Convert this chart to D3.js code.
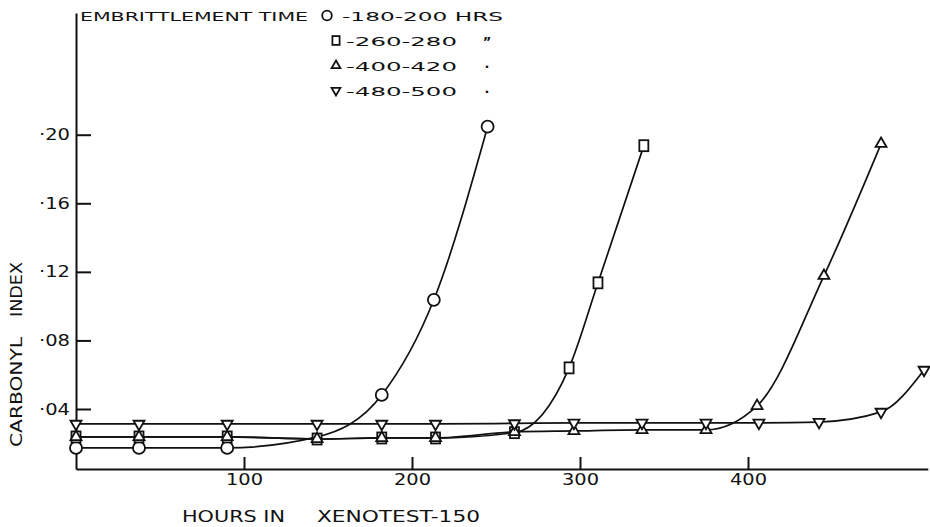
<!DOCTYPE html>
<html>
<head>
<meta charset="utf-8">
<script src="https://cdn.jsdelivr.net/npm/d3@7"></script>
<style>
  html, body { margin: 0; padding: 0; background: #fff; }
  svg { display: block; }
  text { font-family: "DejaVu Sans", "Liberation Sans", sans-serif; fill: #111; }
</style>
</head>
<body>
<svg id="chart" width="930" height="527"></svg>
<script>
// ---------------- data ----------------
const xTicks = [100, 200, 300, 400];
const yTicks = [0.04, 0.08, 0.12, 0.16, 0.20];
const yTickLabels = ["·04", "·08", "·12", "·16", "·20"];

// 180-200 HRS (circles)
const hours180 = [0, 37.5, 90, 143.5, 182, 213, 245];
const carbonyl180 = [0.0173, 0.0173, 0.0173, 0.0237, 0.0482, 0.1037, 0.2047];
const shown180 = [true, true, true, false, true, true, true];

// 260-280 (squares)
const hours260 = [0, 37.5, 90, 143.5, 182, 214, 261, 293.5, 310.7, 338];
const carbonyl260 = [0.0237, 0.0237, 0.0237, 0.0225, 0.0231, 0.0231, 0.0262, 0.0640, 0.1136, 0.1936];

// 400-420 (up triangles)
const hours400 = [0, 37.5, 90, 143.5, 182, 214, 261, 296.4, 336.9, 375, 405.4, 445.2, 479.2];
const carbonyl400 = [0.0237, 0.0237, 0.0237, 0.0225, 0.0231, 0.0231, 0.0266, 0.0272, 0.0278, 0.0278, 0.0418, 0.1177, 0.1947];

// 480-500 (down triangles)
const hours480 = [0, 37.5, 90, 143.5, 182, 214, 261, 296.4, 336.9, 375, 406.5, 442.3, 479.2, 504.8];
const carbonyl480 = [0.0313, 0.0313, 0.0313, 0.0313, 0.0313, 0.0313, 0.0316, 0.0319, 0.0319, 0.0319, 0.0319, 0.0324, 0.0383, 0.0628];

const legendTitle = "EMBRITTLEMENT TIME";
const legendLabels = ["-180-200 HRS", "-260-280", "-400-420", "-480-500"];
const legendDitto = ["", "\u201D", "·", "·"];
const xLabelParts = ["HOURS IN", "XENOTEST-150"];
const yLabelParts = ["CARBONYL", "INDEX"];

// ---------------- build ----------------
const svg = d3.select("#chart");
const ink = "#111";

const x = d3.scaleLinear().domain([0, 507]).range([76, 76 + 507 * 1.68]);
const y = d3.scaleLinear().domain([0.005, 0.271]).range([469, 13]);

function zip(xs, ys, show) {
  return xs.map((v, i) => ({ x: v, y: ys[i], show: show ? show[i] : true }));
}

const series = [
  { data: zip(hours180, carbonyl180, shown180), shape: "circle" },
  { data: zip(hours260, carbonyl260), shape: "square" },
  { data: zip(hours400, carbonyl400), shape: "up" },
  { data: zip(hours480, carbonyl480), shape: "down" }
];

// axes
const yAxis = d3.axisLeft(y)
  .tickValues(yTicks)
  .tickSize(-15)
  .tickSizeOuter(0)
  .tickPadding(6)
  .tickFormat((d, i) => yTickLabels[i]);
const gy = svg.append("g").attr("transform", `translate(${x(0)},0)`).call(yAxis);

const xAxis = d3.axisBottom(x)
  .tickValues(xTicks)
  .tickSize(-12)
  .tickSizeOuter(0)
  .tickPadding(5)
  .tickFormat(d3.format("d"));
const gx = svg.append("g").attr("transform", `translate(0,${y(0.005)})`).call(xAxis);

[gx, gy].forEach(g => {
  g.select(".domain").attr("stroke", ink).attr("stroke-width", 2);
  g.selectAll(".tick line").attr("stroke", ink).attr("stroke-width", 2);
  g.selectAll(".tick text").attr("fill", ink).style("font-family", '"DejaVu Sans", sans-serif');
});
gy.selectAll(".tick text").attr("font-size", 16).attr("textLength", 31).attr("lengthAdjust", "spacingAndGlyphs");
gx.selectAll(".tick text").attr("font-size", 15).attr("textLength", 37).attr("lengthAdjust", "spacingAndGlyphs");

// lines
const line = d3.line().x(d => x(d.x)).y(d => y(d.y)).curve(d3.curveMonotoneX);
svg.append("g").selectAll("path")
  .data(series)
  .join("path")
  .attr("d", s => line(s.data))
  .attr("fill", "none")
  .attr("stroke", ink)
  .attr("stroke-width", 1.7);

// markers
function drawMarker(g, shape, cx, cy, scale) {
  const sw = 1.8;
  if (shape === "circle") {
    g.append("circle").attr("cx", cx).attr("cy", cy).attr("r", 6 * scale)
      .attr("fill", "#fff").attr("stroke", ink).attr("stroke-width", sw);
  } else if (shape === "square") {
    const w = 9 * scale, h = 11 * scale;
    g.append("rect").attr("x", cx - w / 2).attr("y", cy - h / 2).attr("width", w).attr("height", h)
      .attr("fill", "#fff").attr("stroke", ink).attr("stroke-width", sw);
  } else {
    const size = 52 * scale * scale;
    const p = d3.symbol().type(d3.symbolTriangle).size(size)();
    g.append("path").attr("d", p)
      .attr("transform", `translate(${cx},${cy})` + (shape === "down" ? " rotate(180)" : ""))
      .attr("fill", "#fff").attr("stroke", ink).attr("stroke-width", sw).attr("stroke-linejoin", "miter");
  }
}

const gm = svg.append("g");
series.forEach(s => {
  s.data.forEach(d => {
    if (d.show) drawMarker(gm, s.shape, x(d.x), y(d.y), 1);
  });
});

// legend
const leg = svg.append("g");
leg.append("text").attr("x", 80).attr("y", 20.5).attr("font-size", 13)
  .attr("textLength", 228).attr("lengthAdjust", "spacingAndGlyphs").text(legendTitle);
series.forEach((s, i) => {
  const cy = 15.5 + i * 25;
  const sx = i === 0 ? 327 : 336;
  drawMarker(leg, s.shape, sx, cy, 0.8);
  const tx = i === 0 ? 342 : 346;
  const tl = i === 0 ? 161 : 111;
  leg.append("text").attr("x", tx).attr("y", cy + 5).attr("font-size", 13)
    .attr("textLength", tl).attr("lengthAdjust", "spacingAndGlyphs").text(legendLabels[i]);
  if (legendDitto[i]) {
    leg.append("text").attr("x", 487).attr("y", cy + 5).attr("font-size", 13)
      .attr("text-anchor", "middle").attr("font-weight", "bold").text(legendDitto[i]);
  }
});

// axis titles
svg.append("text").attr("x", 182).attr("y", 522).attr("font-size", 16)
  .attr("textLength", 103).attr("lengthAdjust", "spacingAndGlyphs").text(xLabelParts[0]);
svg.append("text").attr("x", 317).attr("y", 522).attr("font-size", 16)
  .attr("textLength", 163).attr("lengthAdjust", "spacingAndGlyphs").text(xLabelParts[1]);

svg.append("text").attr("transform", "translate(22,447) rotate(-90)").attr("font-size", 16)
  .attr("textLength", 110).attr("lengthAdjust", "spacingAndGlyphs").text(yLabelParts[0]);
svg.append("text").attr("transform", "translate(22,317) rotate(-90)").attr("font-size", 16)
  .attr("textLength", 55).attr("lengthAdjust", "spacingAndGlyphs").text(yLabelParts[1]);
</script>
</body>
</html>
